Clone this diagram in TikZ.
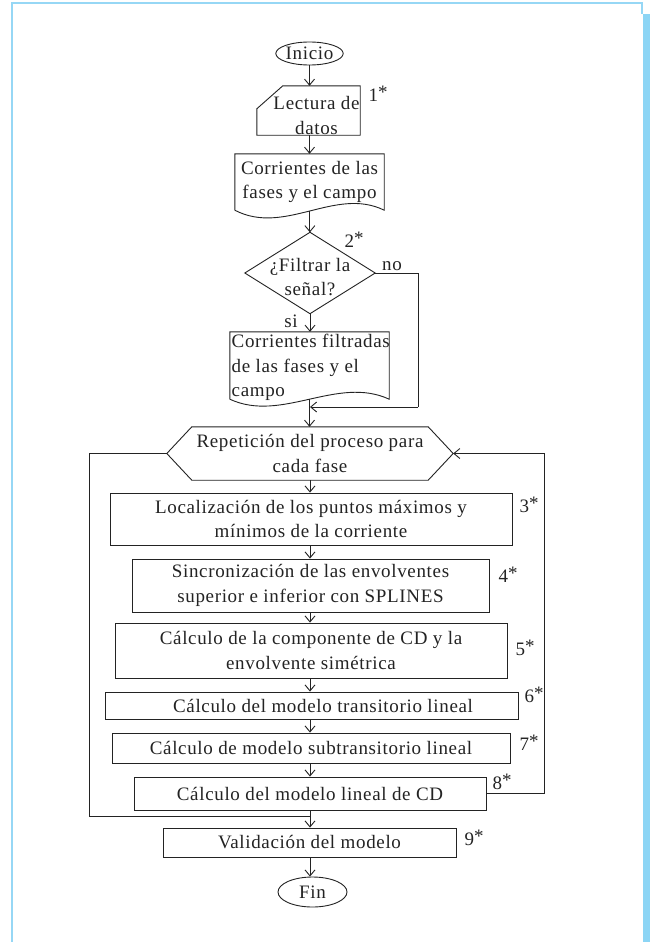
\documentclass[tikz,border=0pt]{standalone}
\usepackage{fontspec}
\setmainfont{Liberation Serif}[LetterSpace=3.5]
\usetikzlibrary{arrows.meta,calc,shapes.geometric}
\definecolor{ink}{RGB}{35,35,35}
\definecolor{frameblue}{RGB}{150,215,245}
\definecolor{barblue}{RGB}{140,213,245}
\newcommand\astx{\raisebox{2.5pt}{*}}
\tikzset{
  every node/.style={font=\fontsize{19}{24.5}\selectfont, text=ink, inner sep=0pt},
  box/.style={draw=ink, line width=0.9pt, align=center},
  term/.style={ellipse, draw=ink, line width=0.9pt, inner sep=0pt},
  outline/.style={draw=ink, line width=0.9pt, line join=miter},
  flow/.style={draw=ink, line width=0.9pt, -{Straight Barb[length=6pt,width=10pt,line width=0.9pt]}},
  numlbl/.style={font=\fontsize{19}{20}\selectfont},
}
\begin{document}
\begin{tikzpicture}[x=1pt,y=-1pt]
\useasboundingbox (0,0) rectangle (650,942);
\fill[white] (0,0) rectangle (650,942);
% frame
\draw[frameblue, line width=1.5pt] (12,945) -- (12,3) -- (642,3) -- (642,14);
\fill[barblue] (642.5,14) rectangle (650,945);

% start
\node[term, minimum width=65, minimum height=23] (ini) at (309.5,53.5) {Inicio};

% manual input
\node[minimum width=103, minimum height=49] (lect) at (308.5,110.5) {};
\draw[outline] (lect.north east) -- (lect.south east) -- (lect.south west) -- ([yshift=-23pt]lect.north west) -- ([xshift=26pt]lect.north west) -- cycle;
\node[align=center] (lectt) at (316.5,115.5) {Lectura de\\datos};
\node[numlbl] (n1) at (378,94) {1\astx};

% document 1
\node[align=center, minimum width=149, minimum height=56] (corr) at (309.5,182) {Corrientes de las\\fases y el campo};
\draw[outline] (corr.south west) -- (corr.north west) -- (corr.north east) -- (corr.south east) .. controls +(-49,-24) and +(50,26) .. (corr.south west) coordinate[pos=0.5] (corrb);

% decision
\node[minimum width=130, minimum height=81] (dec) at (310,273) {};
\draw[outline] (dec.north) -- (dec.east) -- (dec.south) -- (dec.west) -- cycle;
\node[align=center] (dect) at (310,277) {¿Filtrar la\\señal?};
\node[numlbl] (n2) at (354,240) {2\astx};
\node (lno) at (392,266) {no};
\node (lsi) at (291,321) {si};

% document 2
\node[minimum width=159, minimum height=67] (filt) at (309.5,365.5) {};
\draw[outline] (filt.south west) -- (filt.north west) -- (filt.north east) -- (filt.south east) .. controls +(-52,-24) and +(52,24) .. (filt.south west) coordinate[pos=0.5] (filtb);
\node[align=left, anchor=west] (filtt) at (231.5,367.5) {Corrientes filtradas\\de las fases y el\\campo};

% hexagon
\node[align=center, minimum width=286, minimum height=53] (hex) at (310,453.5) {Repetición del proceso para\\cada fase};
\draw[outline] (hex.west) -- ([xshift=25pt]hex.north west) -- ([xshift=-25pt]hex.north east) -- (hex.east) -- ([xshift=-25pt]hex.south east) -- ([xshift=25pt]hex.south west) -- cycle;

% process boxes
\node[box, minimum width=402, minimum height=52] (b3) at (311,519) {Localización de los puntos máximos y\\mínimos de la corriente};
\node[numlbl] (n3) at (529,505) {3\astx};
\node[box, minimum width=357, minimum height=53] (b4) at (310.5,585.5) {Sincronización de las envolventes\\superior e inferior con SPLINES};
\node[numlbl] (n4) at (508,575) {4\astx};
\node[box, minimum width=392, minimum height=55] (b5) at (311,650.5) {Cálculo de la componente de CD y la\\envolvente simétrica};
\node[numlbl] (n5) at (525,648) {5\astx};
\node[box, minimum width=413, minimum height=27] (b6) at (311.5,705.5) {\hspace*{23pt}Cálculo del modelo transitorio lineal};
\node[numlbl] (n6) at (534,695) {6\astx};
\node[box, minimum width=398, minimum height=30] (b7) at (311,748) {Cálculo de modelo subtransitorio lineal};
\node[numlbl] (n7) at (529,743) {7\astx};
\node[box, minimum width=352, minimum height=33] (b8) at (310,793.5) {Cálculo del modelo lineal de CD};
\node[numlbl] (n8) at (502,782) {8\astx};
\node[box, minimum width=293, minimum height=29] (val) at (309.5,842.5) {Validación del modelo};
\node[numlbl] (n9) at (474,838) {9\astx};
\node[term, minimum width=69, minimum height=30] (fin) at (312.5,892) {Fin};

% helper coordinates
\coordinate (nr) at (418,273);
\coordinate (nb) at (418,407);
\coordinate (mrg) at (310,407);
\coordinate (lt) at (89,453.5);
\coordinate (lb) at (89,816);
\coordinate (rt) at (544,453.5);
\coordinate (rb) at (544,793.5);

% connectors
\draw[flow] (ini.south) -- (ini.south |- lect.north);
\draw[flow] (lect.south -| ini.south) -- (ini.south |- corr.north);
\draw[flow] (corrb) -- (corrb |- dec.north);
\draw[flow] (dec.south) -- (dec.south |- filt.north);
\draw[outline] (dec.east) -- (nr) -- (nb);
\draw[flow] (nb) -- (mrg);
\draw[flow] (filtb) -- (filtb |- hex.north);
\draw[flow] (hex.south) -- (hex.south |- b3.north);
\draw[flow] (b3.south -| hex.south) -- (hex.south |- b4.north);
\draw[flow] (b4.south -| hex.south) -- (hex.south |- b5.north);
\draw[flow] (b5.south -| hex.south) -- (hex.south |- b6.north);
\draw[flow] (b6.south -| hex.south) -- (hex.south |- b7.north);
\draw[flow] (b7.south -| hex.south) -- (hex.south |- b8.north);
\draw[flow] (b8.south -| hex.south) -- (hex.south |- val.north);
\draw[flow] (val.south -| hex.south) -- (hex.south |- fin.north);
% loop
\draw[outline] (hex.west) -- (lt) -- (lb) -- (lb -| hex.south);
\draw[flow] (b8.east) -- (rb) -- (rt) -- (hex.east);
\end{tikzpicture}
\end{document}
